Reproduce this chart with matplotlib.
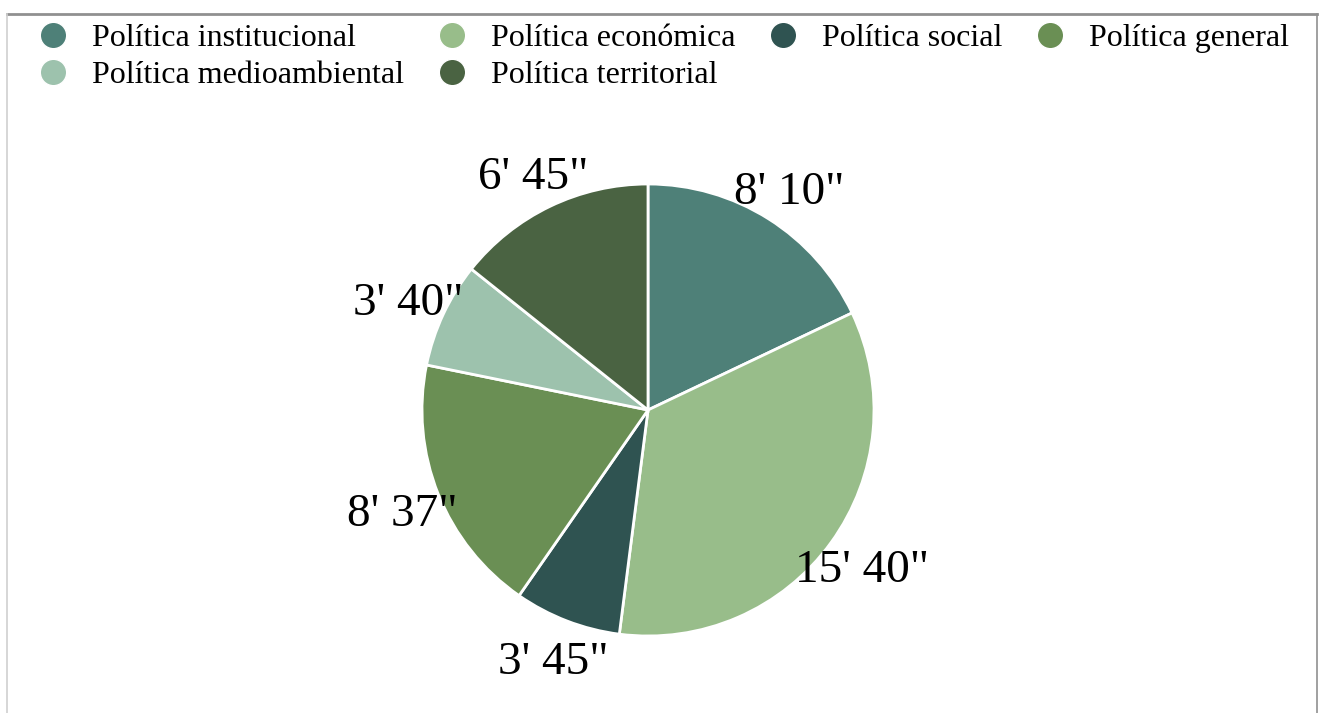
import numpy as np
import matplotlib
matplotlib.use('Agg')
import matplotlib.pyplot as plt
import matplotlib.transforms as mtransforms
from matplotlib.lines import Line2D

plt.rcParams['font.family'] = ['Liberation Serif', 'DejaVu Serif']

# tiempo por tema (minutos, tal como los usa el gráfico original)
categories = ['Política institucional', 'Política económica', 'Política social',
              'Política general', 'Política medioambiental', 'Política territorial']
minutes = [8.10, 15.40, 3.45, 8.37, 3.40, 6.45]
labels = ["8' 10\"", "15' 40\"", "3' 45\"", "8' 37\"", "3' 40\"", "6' 45\""]
colors = ['#4e8078', '#98bd8a', '#2f5351', '#6a8f54', '#9dc2ad', '#4a6342']

fig = plt.figure(figsize=(13.19, 7.13), dpi=100)

# pie in its own axes, centred at (648, 410) px, radius ~225 px
r = 226
pax = fig.add_axes([(648 - r) / 1319, (713 - 410 - r) / 713, 2 * r / 1319, 2 * r / 713])
wedges, texts = pax.pie(minutes, labels=labels, colors=colors, startangle=90,
                        counterclock=False, labeldistance=1.17,
                        wedgeprops=dict(edgecolor='white', linewidth=2),
                        textprops=dict(fontsize=34, color='black'))
pax.set_aspect('auto')
pax.set_xlim(-1, 1)
pax.set_ylim(-1, 1)
# nudge labels down a little so the digits sit centred on the anchor
shift = mtransforms.offset_copy(pax.transData, fig=fig, x=0, y=-6, units='dots')
for t in texts:
    t.set_horizontalalignment('center')
    t.set_verticalalignment('center')
    t.set_transform(shift)

# frame lines (top, left, right)
fig.add_artist(Line2D([7 / 1319, 1317 / 1319], [1 - 14 / 713, 1 - 14 / 713],
                      color='#909090', linewidth=2))
fig.add_artist(Line2D([7 / 1319, 7 / 1319], [0, 1 - 14 / 713], color='#d0d0d0', linewidth=1.2))
fig.add_artist(Line2D([1317 / 1319, 1317 / 1319], [0, 1 - 14 / 713], color='#909090', linewidth=1.2))

# legend fills column by column, so reorder to read row by row
order = [0, 4, 1, 5, 2, 3]
handles = [Line2D([], [], marker='o', linestyle='none', markersize=19,
                  markerfacecolor=colors[i], markeredgecolor='white', markeredgewidth=1)
           for i in order]
fig.legend(handles, [categories[i] for i in order], loc='upper left',
           bbox_to_anchor=(24 / 1319, 1 - 11 / 713),
           ncol=4, frameon=False, fontsize=23, handletextpad=0.72, columnspacing=1.0,
           labelspacing=0.25, borderaxespad=0, handlelength=1.0)

fig.savefig('out.png', dpi=100, facecolor='white')
